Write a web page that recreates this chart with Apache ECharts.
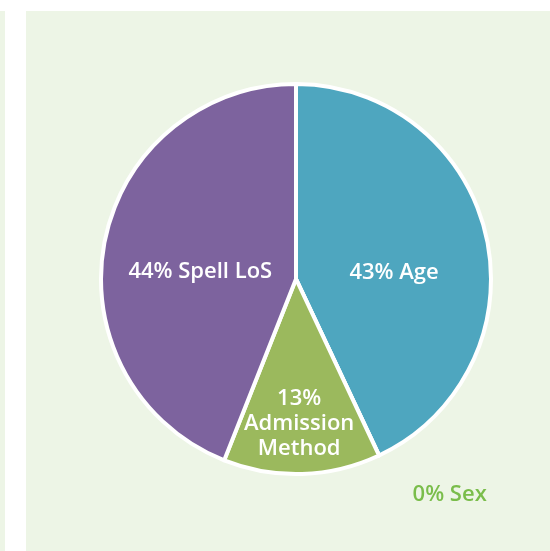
<!DOCTYPE html>
<html>
<head>
<meta charset="utf-8">
<script src="https://cdn.jsdelivr.net/npm/echarts@6/dist/echarts.min.js"></script>
<style>
  html, body { margin: 0; padding: 0; background: #fff; }
  #chart { width: 550px; height: 551px; }
</style>
</head>
<body>
<div id="chart"></div>
<script>
var factors = ['Age', 'Sex', 'Admission Method', 'Spell LoS'];
var shares = [43, 0, 13, 44];
var colors = ['#4ea6bf', '#7abd4b', '#9bb95d', '#7d639e'];

var panelColor = '#edf5e6';

// nudge labels to where the original put them
var labelOffsets = {
  'Age': [0, 16],
  'Sex': [3, -15],
  'Admission Method': [0, 44],
  'Spell LoS': [3, 12]
};

var pieData = factors.map(function (name, i) {
  var item = {
    name: name,
    value: shares[i],
    itemStyle: { color: colors[i] },
    label: { offset: labelOffsets[name] }
  };
  if (name === 'Sex') {
    item.label.position = 'outside';
    item.label.color = '#7abd4b';
    item.labelLine = { show: false };
  }
  if (name === 'Admission Method') {
    item.label.lineHeight = 25;
    item.label.formatter = function (p) { return p.value + '%\n' + p.name.replace(' ', '\n'); };
  }
  return item;
});

var chart = echarts.init(document.getElementById('chart'));
chart.setOption({
  animation: false,
  graphic: [
    { type: 'rect', shape: { x: 0, y: 11, width: 5, height: 540 }, style: { fill: panelColor }, z: -10 },
    { type: 'rect', shape: { x: 26, y: 11, width: 524, height: 540 }, style: { fill: panelColor }, z: -10 }
  ],
  series: [{
    type: 'pie',
    center: [296, 279],
    radius: 195,
    startAngle: 90,
    clockwise: true,
    avoidLabelOverlap: false,
    itemStyle: { borderColor: '#ffffff', borderWidth: 4 },
    label: {
      show: true,
      position: 'inner',
      formatter: '{c}% {b}',
      color: '#ffffff',
      fontFamily: 'Open Sans',
      fontWeight: 600,
      fontSize: 22
    },
    labelLine: { show: false, length: 60, length2: 0 },
    emphasis: { disabled: true },
    data: pieData
  }]
});
</script>
</body>
</html>
